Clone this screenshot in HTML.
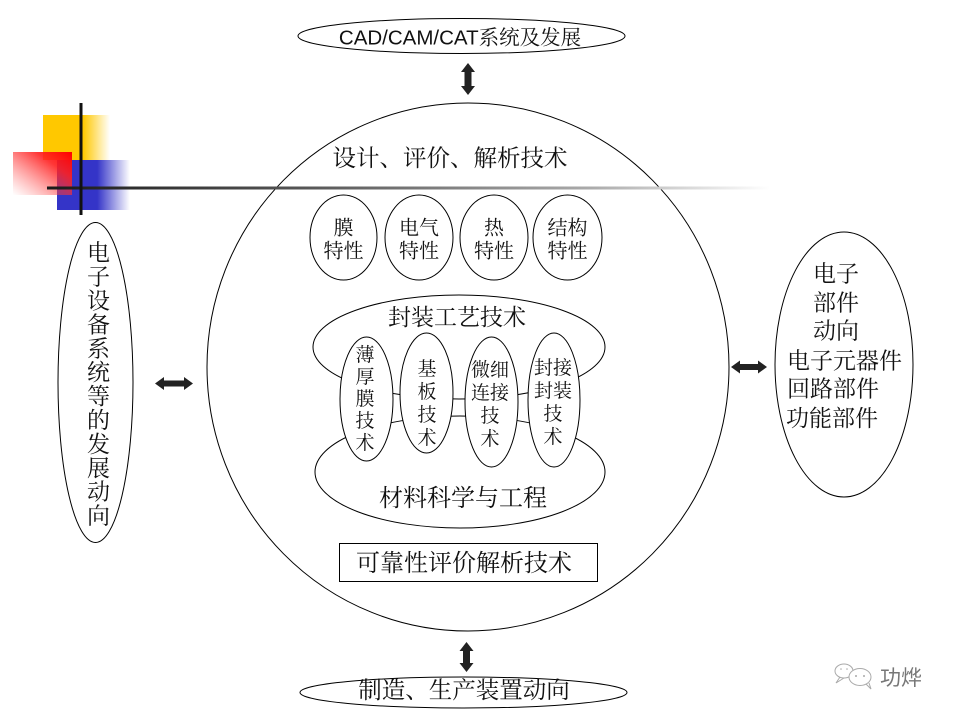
<!DOCTYPE html>
<html><head><meta charset="utf-8"><style>
html,body{margin:0;padding:0;background:#fff;}
svg{display:block;}
.cj{font-family:"Noto Serif CJK SC","Noto Serif CJK JP","Liberation Serif",serif;fill:#111;}
</style></head><body>
<svg width="960" height="720" viewBox="0 0 960 720" xmlns="http://www.w3.org/2000/svg">
<defs>
<linearGradient id="gy" x1="0" y1="0" x2="1" y2="0">
<stop offset="0" stop-color="#FFC800"/><stop offset="0.6" stop-color="#FFC800"/><stop offset="1" stop-color="#FFC800" stop-opacity="0"/>
</linearGradient>
<linearGradient id="gb" x1="0" y1="0" x2="1" y2="0">
<stop offset="0" stop-color="#3434C8"/><stop offset="0.55" stop-color="#3434C8"/><stop offset="1" stop-color="#3434C8" stop-opacity="0"/>
</linearGradient>
<linearGradient id="gr" x1="1" y1="0" x2="0" y2="1">
<stop offset="0" stop-color="#FF0000"/><stop offset="0.3" stop-color="#FF2020" stop-opacity="0.9"/><stop offset="1" stop-color="#FF6060" stop-opacity="0"/>
</linearGradient>
<linearGradient id="gl" gradientUnits="userSpaceOnUse" x1="47" y1="0" x2="770" y2="0">
<stop offset="0" stop-color="#1a1a1a"/><stop offset="0.35" stop-color="#555"/><stop offset="0.75" stop-color="#aaa"/><stop offset="1" stop-color="#fff"/>
</linearGradient>
</defs>

<rect x="43" y="115" width="67" height="45" fill="url(#gy)"/>
<rect x="57" y="160" width="73" height="50" fill="url(#gb)"/>
<rect x="13" y="152" width="59" height="43" fill="url(#gr)"/>

<ellipse cx="468" cy="367" rx="261" ry="264" fill="none" stroke="#000" stroke-width="1"/>

<line x1="47" y1="188" x2="770" y2="188" stroke="url(#gl)" stroke-width="3"/>
<line x1="81" y1="103" x2="81" y2="215" stroke="#111" stroke-width="3"/>

<ellipse cx="461.5" cy="36" rx="163.5" ry="17.5" fill="#fff" stroke="#000" stroke-width="1"/>
<text x="460" y="44.5" text-anchor="middle" style="font-family:'Liberation Sans','Noto Sans CJK SC',sans-serif;font-size:20.5px;fill:#111">CAD/CAM/CAT<tspan style="font-family:'Noto Serif CJK SC','Liberation Serif',serif">系统及发展</tspan></text>

<polygon points="468,63 475,72 471.5,72 471.5,86 475,86 468,95 461,86 464.5,86 464.5,72 461,72" fill="#222"/>

<text class="cj" x="450" y="166" text-anchor="middle" font-size="23.5">设计、评价、解析技术</text>

<ellipse cx="343.5" cy="237.5" rx="33.5" ry="42.5" fill="#fff" stroke="#000"/>
<ellipse cx="419" cy="237.5" rx="34" ry="42.5" fill="#fff" stroke="#000"/>
<ellipse cx="494" cy="237.5" rx="34" ry="42.5" fill="#fff" stroke="#000"/>
<ellipse cx="567.5" cy="237.5" rx="34.5" ry="42.5" fill="#fff" stroke="#000"/>
<g class="cj" font-size="20" text-anchor="middle">
<text x="343.5" y="234.5">膜</text><text x="343.5" y="257.5">特性</text>
<text x="419" y="234.5">电气</text><text x="419" y="257.5">特性</text>
<text x="494" y="234.5">热</text><text x="494" y="257.5">特性</text>
<text x="567.5" y="234.5">结构</text><text x="567.5" y="257.5">特性</text>
</g>

<ellipse cx="459" cy="347" rx="146" ry="52" fill="#fff" stroke="#000"/>
<ellipse cx="460" cy="472" rx="145" ry="56" fill="#fff" stroke="#000"/>
<text class="cj" x="457" y="325" text-anchor="middle" font-size="23">封装工艺技术</text>
<text class="cj" x="463" y="506" text-anchor="middle" font-size="24">材料科学与工程</text>

<ellipse cx="366.5" cy="399" rx="26.5" ry="62" fill="#fff" stroke="#000"/>
<ellipse cx="426.5" cy="393" rx="26.5" ry="60" fill="#fff" stroke="#000"/>
<ellipse cx="491.5" cy="402" rx="26.5" ry="65" fill="#fff" stroke="#000"/>
<ellipse cx="554" cy="400" rx="26" ry="67" fill="#fff" stroke="#000"/>
<g class="cj" font-size="19" text-anchor="middle">
<text x="365" y="361">薄</text><text x="365" y="383">厚</text><text x="365" y="405">膜</text><text x="365" y="427">技</text><text x="365" y="449">术</text>
<text x="427" y="375">基</text><text x="427" y="398">板</text><text x="427" y="421">技</text><text x="427" y="444">术</text>
<text x="490" y="376">微细</text><text x="490" y="399">连接</text><text x="490" y="422">技</text><text x="490" y="445">术</text>
<text x="553" y="374">封接</text><text x="553" y="397">封装</text><text x="553" y="420">技</text><text x="553" y="443">术</text>
</g>

<rect x="339.5" y="543.5" width="258" height="38" fill="#fff" stroke="#000"/>
<text class="cj" x="464" y="571" text-anchor="middle" font-size="24">可靠性评价解析技术</text>

<polygon points="466.5,642 473.5,651 470,651 470,663 473.5,663 466.5,672 459.5,663 463,663 463,651 459.5,651" fill="#222"/>

<ellipse cx="463.5" cy="692.5" rx="163.5" ry="15.5" fill="#fff" stroke="#000"/>
<text class="cj" x="464" y="698" text-anchor="middle" font-size="23.5">制造、生产装置动向</text>

<ellipse cx="95.5" cy="382.5" rx="37.5" ry="160" fill="#fff" stroke="#000"/>
<g class="cj" font-size="23" text-anchor="middle">
<text x="98.5" y="260.7">电</text>
<text x="98.5" y="284.6">子</text>
<text x="98.5" y="308.5">设</text>
<text x="98.5" y="332.4">备</text>
<text x="98.5" y="356.3">系</text>
<text x="98.5" y="380.2">统</text>
<text x="98.5" y="404.1">等</text>
<text x="98.5" y="428">的</text>
<text x="98.5" y="451.9">发</text>
<text x="98.5" y="475.8">展</text>
<text x="98.5" y="499.7">动</text>
<text x="98.5" y="523.6">向</text>
</g>

<polygon points="155,383.5 164,377 164,380.5 184,380.5 184,377 193,383.5 184,390 184,386.5 164,386.5 164,390" fill="#222"/>

<ellipse cx="844" cy="364.5" rx="69" ry="132.5" fill="#fff" stroke="#000"/>
<g class="cj" font-size="23">
<text x="813" y="281.5">电子</text>
<text x="813" y="310.5">部件</text>
<text x="813" y="338.5">动向</text>
<text x="787" y="368.5">电子元器件</text>
<text x="787" y="396.5">回路部件</text>
<text x="786" y="426">功能部件</text>
</g>

<polygon points="731,367 740,360.5 740,364 758,364 758,360.5 767,367 758,373.5 758,370 740,370 740,373.5" fill="#222"/>

<g fill="none" stroke="#aaa" stroke-width="1">
<ellipse cx="844" cy="671" rx="9" ry="7"/>
<ellipse cx="860" cy="677" rx="11" ry="8.5" fill="#fff"/>
<path d="M840 677 L836 683 L844 678"/>
<path d="M866 684 L871 689 L869 683"/>
</g>
<g fill="#aaa"><circle cx="856" cy="676" r="1"/><circle cx="864" cy="676" r="1"/><circle cx="841" cy="669" r="0.8"/><circle cx="847" cy="669" r="0.8"/></g>
<text x="880" y="685" font-size="21" style="font-family:'Liberation Sans','Noto Sans CJK SC',sans-serif;fill:#777">功烨</text>
</svg>
</body></html>
